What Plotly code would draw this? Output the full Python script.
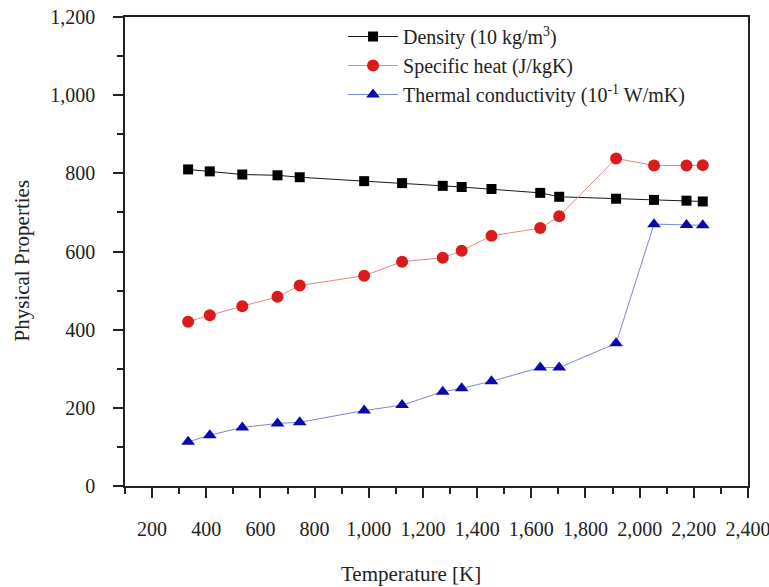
import plotly.graph_objects as go

# Temperature points [K]
temperature = [333, 413, 533, 663, 745, 983, 1123, 1273, 1343, 1453, 1633, 1703, 1913, 2053, 2173, 2233]

# Physical properties at each temperature
density = [810, 805, 797, 795, 790, 780, 775, 768, 765, 760, 750, 740, 735, 732, 730, 728]          # 10 kg/m^3
specific_heat = [420, 437, 460, 484, 513, 538, 574, 584, 602, 640, 660, 690, 838, 820, 820, 821]    # J/kgK
thermal_cond = [113, 130, 150, 160, 163, 193, 207, 241, 250, 268, 303, 303, 365, 670, 668, 667]     # 10^-1 W/mK

x_ticks = list(range(200, 2401, 200))
y_ticks = list(range(0, 1201, 200))

FONT = "Liberation Serif, Times New Roman, serif"
INK = "#222222"

fig = go.Figure()

fig.add_trace(go.Scatter(
    x=temperature, y=density, mode="lines+markers",
    name="Density (10 kg/m<sup>3</sup>)",
    line=dict(color="#1a1a1a", width=1),
    marker=dict(symbol="square", size=10, color="#000000"),
))
fig.add_trace(go.Scatter(
    x=temperature, y=specific_heat, mode="lines+markers",
    name="Specific heat (J/kgK)",
    line=dict(color="#e08a80", width=1),
    marker=dict(symbol="circle", size=12, color="#dd1a1a"),
))
fig.add_trace(go.Scatter(
    x=temperature, y=thermal_cond, mode="lines+markers",
    name="Thermal conductivity (10<sup>-1</sup> W/mK)",
    line=dict(color="#7f86cc", width=1),
    marker=dict(symbol="triangle-up", size=12, color="#0a0aa8"),
))

axis_common = dict(
    showline=True, linecolor=INK, linewidth=1.5, mirror=True,
    ticks="outside", ticklen=10, tickwidth=1.5, tickcolor=INK,
    showgrid=False, zeroline=False, automargin=False,
    tickfont=dict(family=FONT, size=20, color=INK),
    tickformat=",", ticklabeloverflow="allow",
)

fig.update_xaxes(
    range=[100, 2400], tickvals=x_ticks, ticklabelstandoff=14,
    minor=dict(ticks="outside", ticklen=6, dtick=100, tick0=100, tickcolor=INK, tickwidth=1.5),
    **axis_common,
)
fig.update_yaxes(
    range=[0, 1200], tickvals=y_ticks, ticklabelstandoff=14,
    minor=dict(ticks="outside", ticklen=6, dtick=100, tick0=0, tickcolor=INK, tickwidth=1.5),
    **axis_common,
)

# Axis titles
fig.add_annotation(
    text="Temperature [K]", xref="paper", yref="paper",
    x=0.459, y=-0.187, xanchor="center", yanchor="middle", showarrow=False,
    font=dict(family=FONT, size=21, color=INK),
)
fig.add_annotation(
    text="Physical Properties", xref="paper", yref="paper", textangle=-90,
    x=-0.166, y=0.48, xanchor="center", yanchor="middle", showarrow=False,
    font=dict(family=FONT, size=21, color=INK),
)

fig.update_layout(
    width=769, height=587,
    margin=dict(l=125, r=21, t=17, b=101),
    paper_bgcolor="white", plot_bgcolor="white",
    showlegend=True,
    legend=dict(
        x=0.35, y=1.0, xanchor="left", yanchor="top",
        bgcolor="rgba(255,255,255,0)", borderwidth=0,
        font=dict(family=FONT, size=20, color=INK),
        itemwidth=50, tracegroupgap=0,
    ),
)

fig.write_html("out.html")
